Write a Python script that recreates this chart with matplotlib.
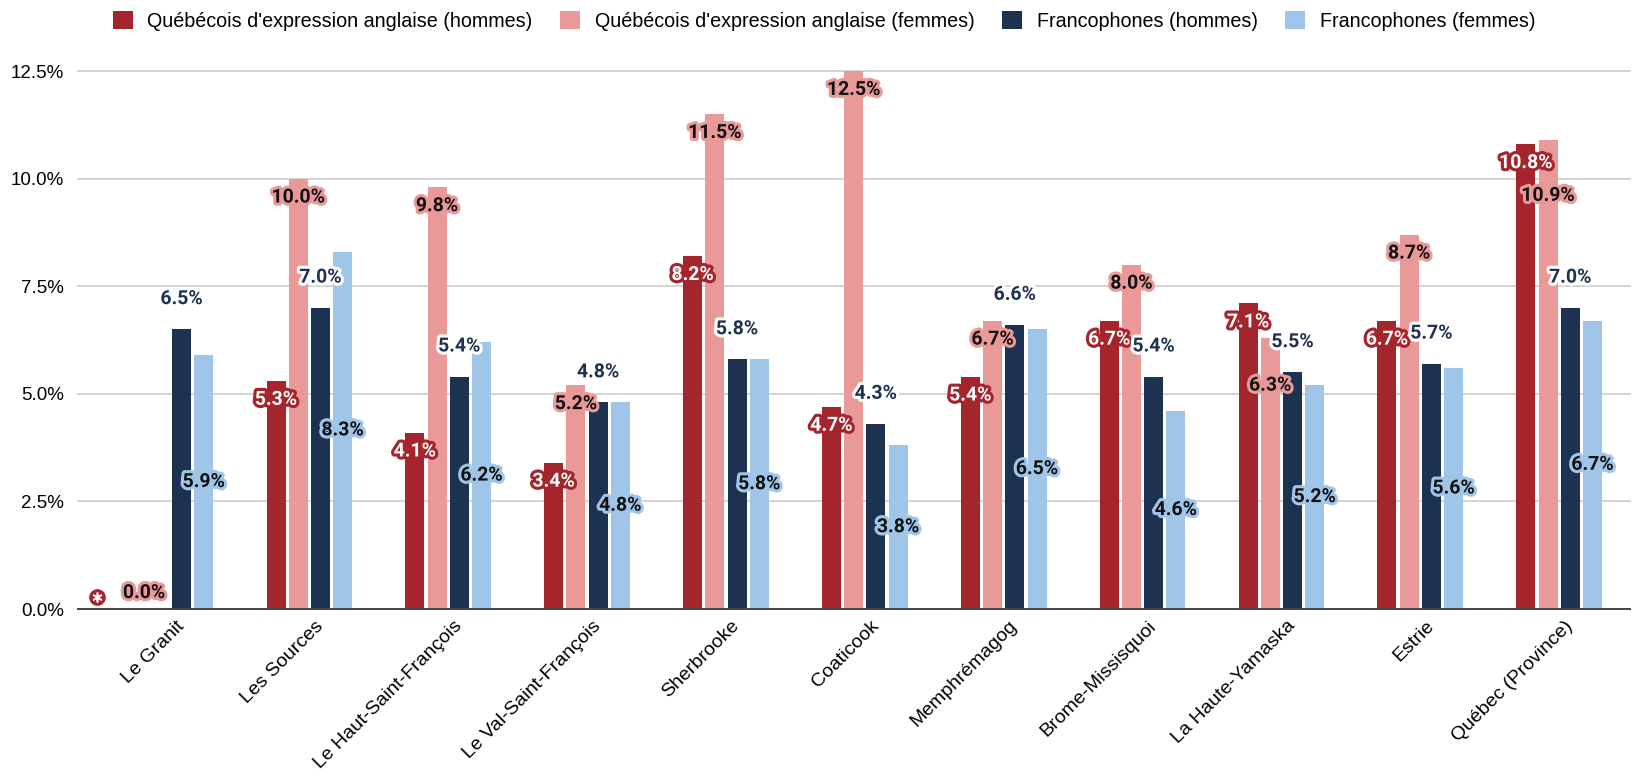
import matplotlib.pyplot as plt
import matplotlib.patheffects as pe
from matplotlib.transforms import ScaledTranslation
import numpy as np

categories = ['Le Granit', 'Les Sources', 'Le Haut-Saint-François', 'Le Val-Saint-François',
              'Sherbrooke', 'Coaticook', 'Memphrémagog', 'Brome-Missisquoi',
              'La Haute-Yamaska', 'Estrie', 'Québec (Province)']
anglo_hommes = [0.0, 5.3, 4.1, 3.4, 8.2, 4.7, 5.4, 6.7, 7.1, 6.7, 10.8]
anglo_femmes = [0.0, 10.0, 9.8, 5.2, 11.5, 12.5, 6.7, 8.0, 6.3, 8.7, 10.9]
franco_hommes = [6.5, 7.0, 5.4, 4.8, 5.8, 4.3, 6.6, 5.4, 5.5, 5.7, 7.0]
franco_femmes = [5.9, 8.3, 6.2, 4.8, 5.8, 3.8, 6.5, 4.6, 5.2, 5.6, 6.7]
series_names = ["Québécois d'expression anglaise (hommes)",
                "Québécois d'expression anglaise (femmes)",
                "Francophones (hommes)", "Francophones (femmes)"]

colors = ['#a5252d', '#ea9999', '#1d3150', '#9fc5e8']
# label style: (text colour, outline colour, placement)
label_style = [('white', colors[0], 'inside'),
               ('#111111', colors[1], 'inside'),
               (colors[2], 'white', 'outside'),
               ('#111111', colors[3], 'center')]
# extra vertical shift for labels that google moved to avoid overlaps
nudge = {(1, 10): -0.86, (1, 8): -0.67}

fig = plt.figure(figsize=(16.35, 7.73), dpi=100)
ax = fig.add_axes([78/1635, 1-609/773, (1630-78)/1635, (609-71)/773])

x = np.arange(len(categories))
pitch = 0.16
width = 0.137
all_series = [anglo_hommes, anglo_femmes, franco_hommes, franco_femmes]

bars = []
for s, vals in enumerate(all_series):
    xs = x + (s - 1.5) * pitch
    b = ax.bar(xs, vals, width, color=colors[s], label=series_names[s], zorder=3)
    bars.append(b)
    tc, oc, mode = label_style[s]
    for i, v in enumerate(vals):
        if v == 0:
            if s == 0:
                # note marker instead of label
                ax.scatter(xs[i] - 0.29, 0.28, s=120, color=colors[0], zorder=5, clip_on=False)
                ax.scatter(xs[i] - 0.29, 0.28, s=40, marker=(6, 2, 0), color='white', zorder=6,
                           linewidths=1.2, clip_on=False)
                continue
            ly = 0.37
            lx = xs[i] - 0.11
        else:
            lx = xs[i]
            if mode == 'inside':
                ly = v - 0.44
            elif mode == 'outside':
                ly = v + 0.70
            else:
                ly = v / 2
            ly += nudge.get((s, i), 0)
        ax.text(lx, ly, f'{v:.1f}%', ha='center', va='center', color=tc,
                fontsize=14, fontweight='bold', family='Roboto', zorder=7,
                path_effects=[pe.withStroke(linewidth=4.5, foreground=oc)])

ax.set_xlim(-0.666, 10.51)
ax.set_ylim(0, 12.5)
ax.set_yticks(np.arange(0, 12.6, 2.5))
ax.set_yticklabels([f'{t:.1f}%' for t in np.arange(0, 12.6, 2.5)],
                   family='Liberation Sans', fontsize=13.5)
ax.yaxis.grid(True, color='#cccccc', linewidth=1.2, zorder=0)
for gl in ax.get_ygridlines():
    gl.set_clip_on(False)
ax.tick_params(axis='y', length=0, pad=10)
ax.tick_params(axis='x', length=0, pad=6)
ax.set_xticks(x)
ax.set_xticklabels(categories, rotation=45, ha='right', rotation_mode='anchor',
                   family='Liberation Sans', fontsize=14)
offset = ScaledTranslation(5/100, 0, fig.dpi_scale_trans)
for lab in ax.get_xticklabels():
    lab.set_transform(lab.get_transform() + offset)

for sp in ['top', 'right', 'left']:
    ax.spines[sp].set_visible(False)
ax.spines['bottom'].set_color('#444444')
ax.spines['bottom'].set_linewidth(1.4)
ax.spines['bottom'].set_zorder(4)

leg = fig.legend(handles=bars, labels=series_names, loc='center', ncol=4,
                 bbox_to_anchor=(0.504, 1-21/773), frameon=False,
                 prop={'family': 'Liberation Sans', 'size': 14.2},
                 handlelength=1.0, handleheight=1.0, handletextpad=0.75,
                 columnspacing=1.4)

fig.savefig('out.png', dpi=100)
